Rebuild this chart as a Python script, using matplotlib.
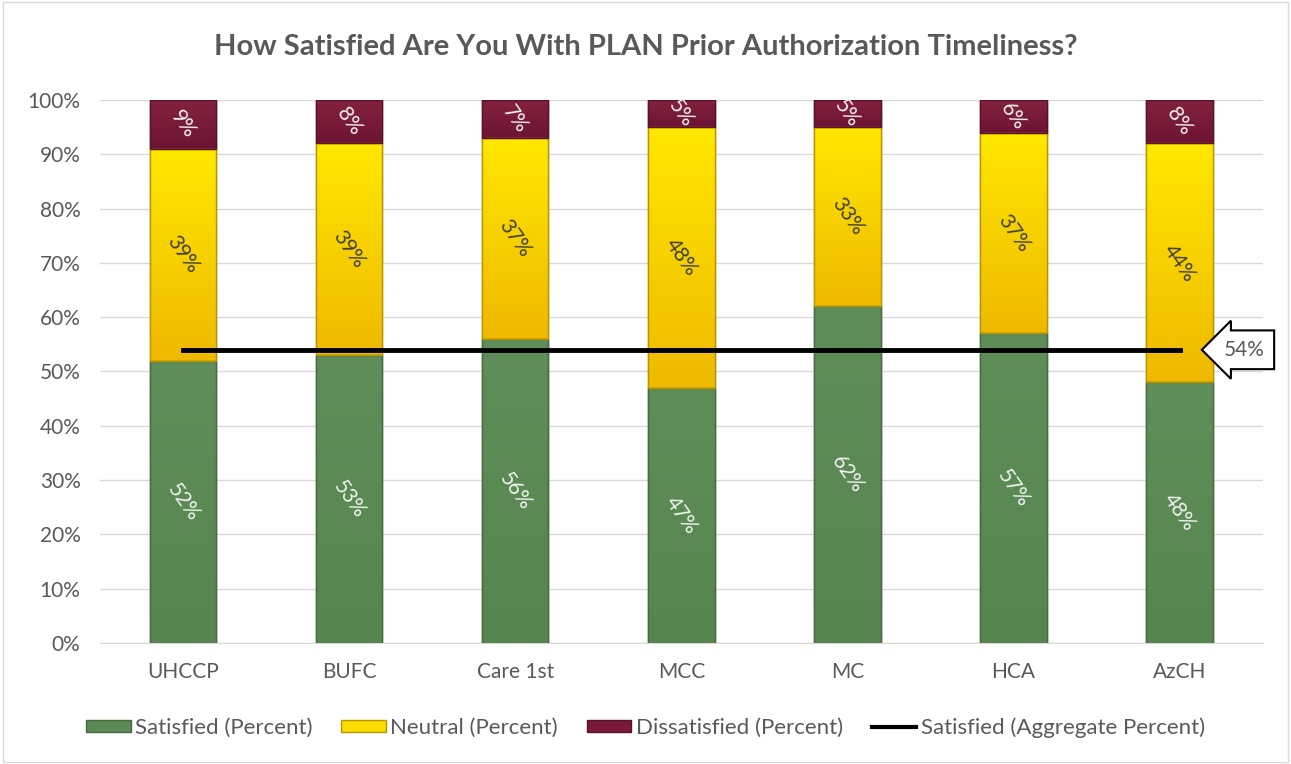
import numpy as np
import matplotlib.pyplot as plt
from matplotlib.patches import Rectangle
from matplotlib.lines import Line2D
from matplotlib.colors import LinearSegmentedColormap

plt.rcParams['font.family'] = ['Lato', 'DejaVu Sans']

categories = ['UHCCP', 'BUFC', 'Care 1st', 'MCC', 'MC', 'HCA', 'AzCH']
satisfied = [52, 53, 56, 47, 62, 57, 48]
neutral = [39, 39, 37, 48, 33, 37, 44]
dissatisfied = [9, 8, 7, 5, 5, 6, 8]
aggregate = 54

green = '#5B8A56'
yellow = '#F7D300'
maroon = '#7A1A3A'
grey = '#595959'

fig = plt.figure(figsize=(12.91, 7.64), dpi=100)
fig.patches.append(Rectangle((0.002, 0.002), 0.996, 0.996, transform=fig.transFigure,
                             fill=False, edgecolor='#D9D9D9', linewidth=1))
ax = fig.add_axes([0.0775, 0.1584, 0.9005, 0.7107])

x = np.arange(len(categories))
w = 0.4
s = np.array(satisfied)
n = np.array(neutral)
d = np.array(dissatisfied)

b1 = ax.bar(x, s, w, color=green, edgecolor='#46693F', linewidth=1, zorder=2)
b2 = ax.bar(x, n, w, bottom=s, color=yellow, edgecolor='#B89500', linewidth=1, zorder=2)
b3 = ax.bar(x, d, w, bottom=s + n, color=maroon, edgecolor='#5A1028', linewidth=1, zorder=2)

# soft vertical gradient inside each segment
grads = [(b1, ['#57854F', '#5F8E5A']),
         (b2, ['#EFB900', '#FFE800']),
         (b3, ['#6C1432', '#84223F'])]
g = np.linspace(0, 1, 256).reshape(-1, 1)
for bars, cols in grads:
    cmap = LinearSegmentedColormap.from_list('g', cols)
    for p in bars:
        x0, y0 = p.get_x(), p.get_y()
        im = ax.imshow(g, extent=[x0, x0 + p.get_width(), y0, y0 + p.get_height()],
                       origin='lower', aspect='auto', cmap=cmap, zorder=2.1)
        im.set_clip_path(p)
    for p in bars:
        ax.add_patch(Rectangle((p.get_x(), p.get_y()), p.get_width(), p.get_height(),
                               fill=False, edgecolor=p.get_edgecolor(), lw=1, zorder=2.2))

fs = 15
for i in range(len(x)):
    ax.text(x[i], s[i] / 2, f'{s[i]}%', rotation=-55, ha='center', va='center',
            color='#F2F2F2', fontsize=fs, zorder=4)
    ax.text(x[i], s[i] + n[i] / 2, f'{n[i]}%', rotation=-55, ha='center', va='center',
            color='#404040', fontsize=fs, zorder=4)
    ax.text(x[i], s[i] + n[i] + d[i] / 2, f'{d[i]}%', rotation=-55, ha='center', va='center',
            color='#F2F2F2', fontsize=fs, zorder=4)

ax.plot([x[0], x[-1]], [aggregate, aggregate], color='black', linewidth=3.5, zorder=3)
ax.annotate(f'{aggregate}%', xy=(x[-1] + 0.03, aggregate), xytext=(x[-1] + 0.39, aggregate),
            ha='center', va='center', color=grey, fontsize=fs, zorder=5,
            bbox=dict(boxstyle='larrow,pad=0.45', fc='white', ec='black', lw=1.5))

ax.set_xlim(-0.5, len(categories) - 0.5)
ax.set_ylim(0, 100)
ax.set_yticks(np.arange(0, 101, 10))
ax.set_yticklabels([f'{v}%' for v in range(0, 101, 10)])
ax.set_xticks(x)
ax.set_xticklabels(categories)
ax.tick_params(axis='both', length=0, labelsize=fs, labelcolor=grey)
ax.tick_params(axis='x', pad=14)
ax.tick_params(axis='y', pad=14)
ax.grid(axis='y', color='#D9D9D9', linewidth=1, zorder=0)
ax.set_axisbelow(True)
for sp in ['top', 'right', 'left']:
    ax.spines[sp].set_visible(False)
ax.spines['bottom'].set_color('#D9D9D9')

fig.text(0.5, 0.938, 'How Satisfied Are You With PLAN Prior Authorization Timeliness?',
         ha='center', va='center', fontsize=21, fontweight='bold', color=grey)

handles = [Rectangle((0, 0), 1, 1, fc=green, ec='#46693F'),
           Rectangle((0, 0), 1, 1, fc='#FBDD00', ec='#B89500'),
           Rectangle((0, 0), 1, 1, fc=maroon, ec='#5A1028'),
           Line2D([0], [0], color='black', lw=3)]
labels = ['Satisfied (Percent)', 'Neutral (Percent)', 'Dissatisfied (Percent)',
          'Satisfied (Aggregate Percent)']
leg = fig.legend(handles, labels, loc='center', bbox_to_anchor=(0.5, 0.048), ncol=4,
                 frameon=False, fontsize=16, handlelength=2.0, handleheight=0.45,
                 handletextpad=0.2, columnspacing=1.3)
for t in leg.get_texts():
    t.set_color(grey)

fig.savefig('out.png', dpi=100)
